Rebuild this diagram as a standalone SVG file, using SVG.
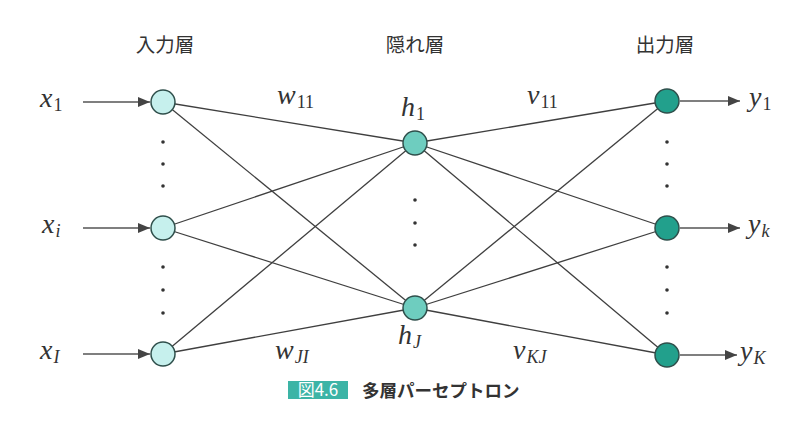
<svg xmlns="http://www.w3.org/2000/svg" width="811" height="437" viewBox="0 0 811 437">
<style>
.edge{stroke:#3f3f3f;stroke-width:1.3;fill:none}
.arr{stroke:#555;stroke-width:1.6;fill:none}
.node{stroke:#2f4f4b;stroke-width:1.5}
.in{fill:#c6f0ed}
.hid{fill:#6ecdbf}
.out{fill:#22a08c}
.dot{fill:#333}
.title{font-family:"Noto Sans CJK JP","Noto Sans",sans-serif;font-size:19.5px;fill:#333;text-anchor:middle}
.m{font-family:"Liberation Serif","Times New Roman","DejaVu Serif",serif;font-style:italic;font-size:28px;fill:#333}
.s{font-family:"Liberation Serif","Times New Roman","DejaVu Serif",serif;font-style:normal;font-size:18px}
.si{font-family:"Liberation Serif","Times New Roman","DejaVu Serif",serif;font-style:italic;font-size:18px}
.cap{font-family:"Noto Sans CJK JP","Noto Sans",sans-serif;font-weight:bold;font-size:17.5px;fill:#333}
.capn{font-family:"Noto Sans CJK JP","Noto Sans",sans-serif;font-size:17px;fill:#fff;text-anchor:middle}
</style>
<defs>
<marker id="ah" markerWidth="12" markerHeight="10" refX="12" refY="5" orient="auto" markerUnits="userSpaceOnUse">
<path d="M0,0 L12,5 L0,10 Z" fill="#444"/>
</marker>
</defs>
<rect width="811" height="437" fill="#fff"/>
<g id="titles">
<text class="title" x="165" y="52">入力層</text>
<text class="title" x="415" y="52">隠れ層</text>
<text class="title" x="665" y="52">出力層</text>
</g>
<g id="connectors">
<line class="edge" x1="163" y1="102" x2="415" y2="143"/>
<line class="edge" x1="163" y1="102" x2="415" y2="308"/>
<line class="edge" x1="163" y1="228" x2="415" y2="143"/>
<line class="edge" x1="163" y1="228" x2="415" y2="308"/>
<line class="edge" x1="163" y1="354" x2="415" y2="143"/>
<line class="edge" x1="163" y1="354" x2="415" y2="308"/>
<line class="edge" x1="415" y1="143" x2="667" y2="101"/>
<line class="edge" x1="415" y1="143" x2="667" y2="228"/>
<line class="edge" x1="415" y1="143" x2="667" y2="355"/>
<line class="edge" x1="415" y1="308" x2="667" y2="101"/>
<line class="edge" x1="415" y1="308" x2="667" y2="228"/>
<line class="edge" x1="415" y1="308" x2="667" y2="355"/>
<line class="arr" x1="83" y1="102" x2="150" y2="102" marker-end="url(#ah)"/>
<line class="arr" x1="83" y1="228" x2="150" y2="228" marker-end="url(#ah)"/>
<line class="arr" x1="83" y1="354" x2="150" y2="354" marker-end="url(#ah)"/>
<line class="arr" x1="680" y1="101" x2="740" y2="101" marker-end="url(#ah)"/>
<line class="arr" x1="680" y1="228" x2="740" y2="228" marker-end="url(#ah)"/>
<line class="arr" x1="680" y1="355" x2="737" y2="355" marker-end="url(#ah)"/>
</g>
<g id="dots">
<circle class="dot" cx="163" cy="142" r="1.8"/>
<circle class="dot" cx="163" cy="164" r="1.8"/>
<circle class="dot" cx="163" cy="186" r="1.8"/>
<circle class="dot" cx="163" cy="267" r="1.8"/>
<circle class="dot" cx="163" cy="290" r="1.8"/>
<circle class="dot" cx="163" cy="313" r="1.8"/>
<circle class="dot" cx="415" cy="200" r="1.8"/>
<circle class="dot" cx="415" cy="223" r="1.8"/>
<circle class="dot" cx="415" cy="245" r="1.8"/>
<circle class="dot" cx="667" cy="142" r="1.8"/>
<circle class="dot" cx="667" cy="164" r="1.8"/>
<circle class="dot" cx="667" cy="186" r="1.8"/>
<circle class="dot" cx="667" cy="267" r="1.8"/>
<circle class="dot" cx="667" cy="290" r="1.8"/>
<circle class="dot" cx="667" cy="313" r="1.8"/>
</g>
<g id="in1"><circle class="node in" cx="163" cy="102" r="12"/></g>
<g id="ini"><circle class="node in" cx="163" cy="228" r="12"/></g>
<g id="inI"><circle class="node in" cx="163" cy="354" r="12"/></g>
<g id="h1"><circle class="node hid" cx="415" cy="143" r="12"/></g>
<g id="hJ"><circle class="node hid" cx="415" cy="308" r="12"/></g>
<g id="out1"><circle class="node out" cx="667" cy="101" r="12"/></g>
<g id="outk"><circle class="node out" cx="667" cy="228" r="12"/></g>
<g id="outK"><circle class="node out" cx="667" cy="355" r="12"/></g>
<g id="labels">
<text class="m" x="40" y="107">x<tspan class="s" dx="1" dy="4">1</tspan></text>
<text class="m" x="42" y="233">x<tspan class="si" dx="1" dy="4">i</tspan></text>
<text class="m" x="40" y="359">x<tspan class="si" dx="1" dy="4">I</tspan></text>
<text class="m" x="749" y="106">y<tspan class="s" dx="1" dy="4">1</tspan></text>
<text class="m" x="748" y="233">y<tspan class="si" dx="1" dy="4">k</tspan></text>
<text class="m" x="740" y="360">y<tspan class="si" dx="1" dy="4">K</tspan></text>
<text class="m" x="277" y="104">w<tspan class="s" dx="1" dy="4">11</tspan></text>
<text class="m" x="527" y="104">v<tspan class="s" dx="1" dy="4">11</tspan></text>
<text class="m" x="401" y="116">h<tspan class="s" dx="1" dy="4">1</tspan></text>
<text class="m" x="398" y="344">h<tspan class="si" dx="1" dy="4">J</tspan></text>
<text class="m" x="275" y="359">w<tspan class="si" dx="1" dy="4">JI</tspan></text>
<text class="m" x="513" y="359">v<tspan class="si" dx="1" dy="4">KJ</tspan></text>
</g>
<g id="caption">
<rect x="288" y="381" width="60" height="18" fill="#3cb4a6"/>
<text class="capn" x="318" y="396">図4.6</text>
<text class="cap" x="362" y="397">多層パーセプトロン</text>
</g>
</svg>
